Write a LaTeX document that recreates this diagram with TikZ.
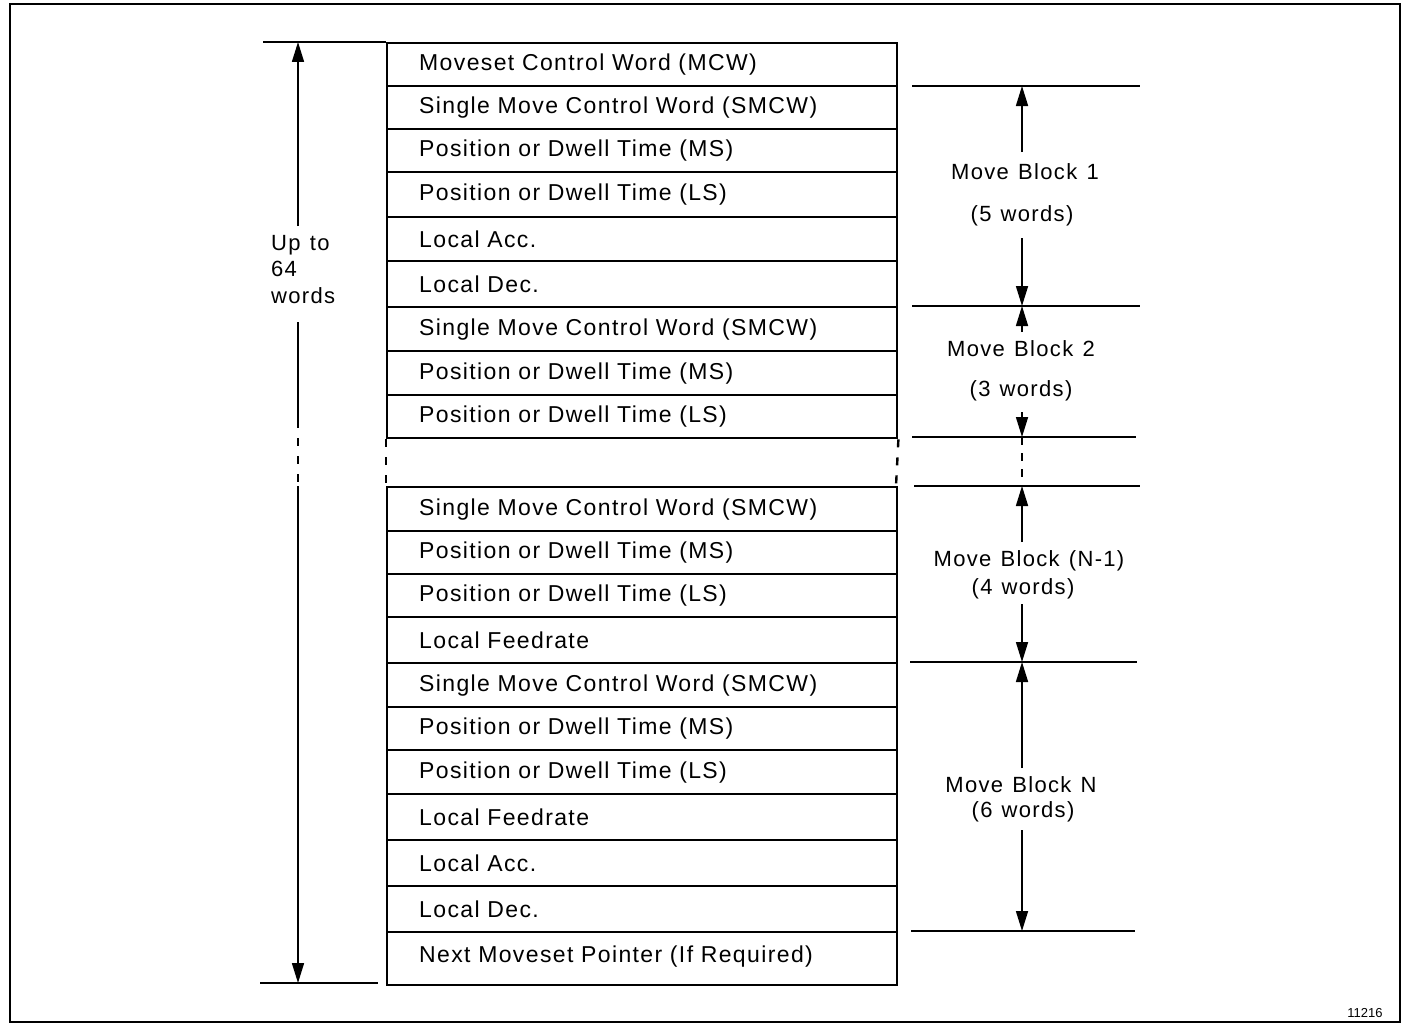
\documentclass[tikz,border=0pt]{standalone}
\usepackage{fontspec}
\setmainfont{Liberation Sans}[LetterSpace=6]
\newfontfamily\plainfont{Liberation Sans}
\usetikzlibrary{arrows.meta}
\newcommand{\myfont}{\fontsize{22}{24}\selectfont\spaceskip=0.42em\relax}
\newcommand{\cellfont}{\fontsize{23}{24}\selectfont\spaceskip=0.42em\relax}
\newcommand{\myfontb}{\fontsize{22}{26.5}\selectfont\spaceskip=0.42em\relax}
\begin{document}
\begin{tikzpicture}[x=1pt,y=-1pt,
  txt/.style={font=\myfont, inner sep=0pt},
  cell/.style={draw, line width=2.4pt, anchor=north west, minimum width=510pt,
    text width=446pt, align=left, inner xsep=32pt, inner ysep=0pt,
    font=\cellfont},
  rule/.style={line width=2.4pt},
  arr/.style={line width=1.6pt, -{Triangle[length=20pt,width=12pt]}},
  dsh/.style={line width=2.4pt, dash pattern=on 8pt off 10pt}]
\useasboundingbox (0,0) rectangle (1408,1025);
\draw[line width=2.8pt] (10,4) rectangle (1400,1022);
% top section
\node[cell, minimum height=43pt] (a1) at (386,42) {Moveset Control Word (MCW)};
\node[cell, minimum height=43pt] (a2) at (386,85) {Single Move Control Word (SMCW)};
\node[cell, minimum height=43pt] (a3) at (386,128) {Position or Dwell Time (MS)};
\node[cell, minimum height=45pt] (a4) at (386,171) {Position or Dwell Time (LS)};
\node[cell, minimum height=44pt] (a5) at (386,216) {Local Acc.};
\node[cell, minimum height=46pt] (a6) at (386,260) {Local Dec.};
\node[cell, minimum height=44pt] (a7) at (386,306) {Single Move Control Word (SMCW)};
\node[cell, minimum height=44pt] (a8) at (386,350) {Position or Dwell Time (MS)};
\node[cell, minimum height=43pt] (a9) at (386,394) {Position or Dwell Time (LS)};
% gap
\draw[dsh] (a9.south west) -- (386,486);
\draw[dsh] (a9.south east) -- (896,486);
% bottom section
\node[cell, minimum height=44pt] (b1) at (386,486) {Single Move Control Word (SMCW)};
\node[cell, minimum height=43pt] (b2) at (386,530) {Position or Dwell Time (MS)};
\node[cell, minimum height=43pt] (b3) at (386,573) {Position or Dwell Time (LS)};
\node[cell, minimum height=46pt] (b4) at (386,616) {Local Feedrate};
\node[cell, minimum height=44pt] (b5) at (386,662) {Single Move Control Word (SMCW)};
\node[cell, minimum height=43pt] (b6) at (386,706) {Position or Dwell Time (MS)};
\node[cell, minimum height=44pt] (b7) at (386,749) {Position or Dwell Time (LS)};
\node[cell, minimum height=46pt] (b8) at (386,793) {Local Feedrate};
\node[cell, minimum height=46pt] (b9) at (386,839) {Local Acc.};
\node[cell, minimum height=46pt] (b10) at (386,885) {Local Dec.};
\node[cell, minimum height=53pt] (b11) at (386,931) {\raisebox{10pt}{Next Moveset Pointer (If Required)}};
% left dimension
\coordinate (lt) at (263,42);
\coordinate (lb1) at (260,983);
\coordinate (lb2) at (378,983);
\draw[rule] (lt) -- (a1.north west);
\draw[rule] (lb1) -- (lb2);
\node[txt, anchor=north west, align=left, font=\myfontb] (up) at (271,235) {Up to\\64\\words};
\coordinate (la) at (298,42);
\coordinate (lb) at (298,983);
\coordinate (lu) at (298,226);
\coordinate (ld) at (298,322);
\coordinate (lg1) at (298,420);
\coordinate (lg2) at (298,486);
\draw[arr] (lu) -- (la);
\draw[line width=1.6pt] (ld) -- (lg1);
\draw[line width=1.6pt, dash pattern=on 8pt off 10pt] (lg1) -- (lg2);
\draw[arr] (lg2) -- (lb);
% right side rules
\coordinate (r1a) at (912,86);   \coordinate (r1b) at (1140,86);
\coordinate (r2a) at (912,306);  \coordinate (r2b) at (1140,306);
\coordinate (r3a) at (912,437);  \coordinate (r3b) at (1136,437);
\coordinate (r4a) at (914,486);  \coordinate (r4b) at (1140,486);
\coordinate (r5a) at (910,662);  \coordinate (r5b) at (1137,662);
\coordinate (r6a) at (911,931);  \coordinate (r6b) at (1135,931);
\foreach \p in {1,...,6} {\draw[rule] (r\p a) -- (r\p b);}
% right labels
\node[txt] (m1) at (1025,172) {Move Block 1};
\node[txt] (w1) at (1022,216) {(5 words)};
\node[txt] (m2) at (1021,349) {Move Block 2};
\node[txt] (w2) at (1021,391) {(3 words)};
\node[txt] (m3) at (1029,561) {Move Block (N-1)};
\node[txt] (w3) at (1023,589) {(4 words)};
\node[txt] (m4) at (1021,785) {Move Block N};
\node[txt] (w4) at (1023,812) {(6 words)};
\coordinate (t1) at (1022,86);  \coordinate (t2) at (1022,306);
\coordinate (t3) at (1022,437); \coordinate (t4) at (1022,486);
\coordinate (t5) at (1022,662); \coordinate (t6) at (1022,931);
\draw[arr] (1022,152) -- (t1);
\draw[arr] (1022,238) -- (t2);
\draw[arr] (1022,332) -- (t2);
\draw[arr] (1022,412) -- (t3);
\draw[line width=1.6pt, dash pattern=on 8pt off 8pt] (t3) -- (t4);
\draw[arr] (1022,542) -- (t4);
\draw[arr] (1022,604) -- (t5);
\draw[arr] (1022,768) -- (t5);
\draw[arr] (1022,830) -- (t6);
\node[font=\plainfont\fontsize{13}{15}\selectfont, inner sep=0pt] (id) at (1365,1013) {11216};
\end{tikzpicture}
\end{document}
